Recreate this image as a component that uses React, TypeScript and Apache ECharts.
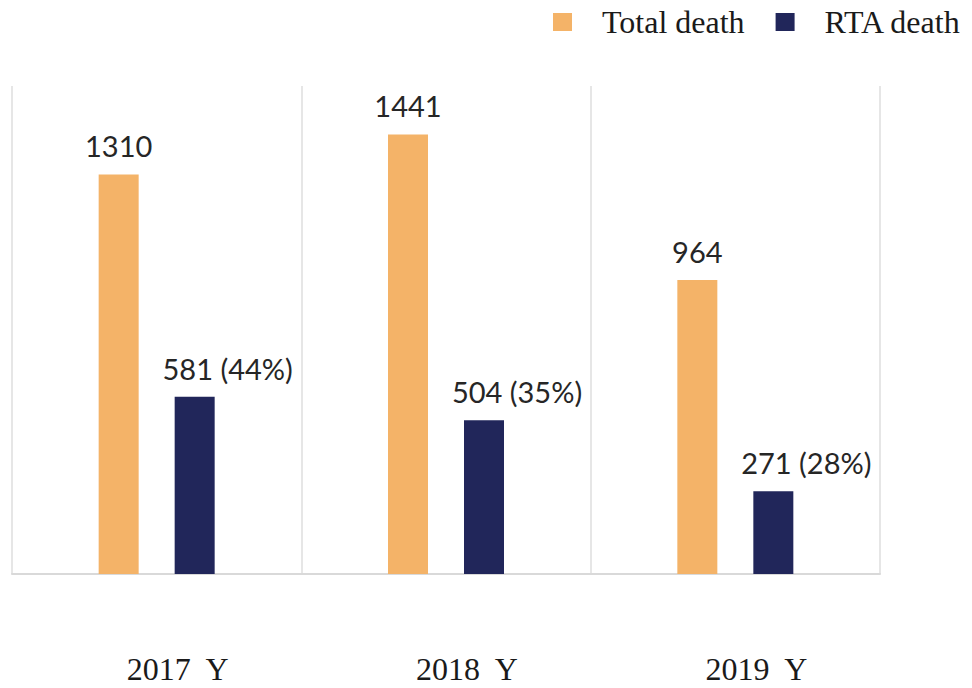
import React, { useEffect, useRef } from "react";
import * as echarts from "echarts";

const categories = ["2017 Y", "2018 Y", "2019 Y"];
const totalDeath = [1310, 1441, 964];
const rtaDeath = [581, 504, 271];
const seriesNames = ["Total death", "RTA death"];

export default function App() {
  const ref = useRef<HTMLDivElement>(null);
  useEffect(() => {
    if (!ref.current) return;
    const chart = echarts.init(ref.current, null, { renderer: "svg" });
    const pct = rtaDeath.map((v, i) => Math.round((v / totalDeath[i]) * 100));
    chart.setOption({
      animation: false,
      backgroundColor: "#ffffff",
      legend: {
        left: 548,
        top: 1,
        itemWidth: 19,
        itemHeight: 18,
        itemGap: 31,
        icon: "rect",
        data: seriesNames,
        textStyle: {
          fontFamily: "Liberation Serif",
          fontSize: 32,
          color: "#1a1a1a",
          padding: [0, 0, 10, 25],
        },
      },
      grid: { left: 12, right: 92, top: 86, bottom: 114 },
      xAxis: {
        type: "category",
        data: categories,
        axisTick: { show: false },
        axisLine: { lineStyle: { color: "#d9d9d9", width: 2 } },
        splitLine: { show: true, lineStyle: { color: "#e6e6e6", width: 2 } },
        axisLabel: {
          margin: 79,
          fontFamily: "Liberation Serif",
          fontSize: 32,
          color: "#1a1a1a",
          padding: [0, 0, 0, 42],
          formatter: (v: string) => v.replace(" ", "  "),
        },
      },
      yAxis: {
        type: "value",
        min: 0,
        max: 1600,
        show: false,
        splitLine: { show: false },
      },
      series: [
        {
          name: seriesNames[0],
          type: "bar",
          data: totalDeath,
          barWidth: 40,
          barGap: "90%",
          itemStyle: { color: "#F4B368" },
          label: {
            show: true,
            position: "top",
            distance: 14,
            fontFamily: "Lato",
            fontSize: 29,
            color: "#262626",
          },
        },
        {
          name: seriesNames[1],
          type: "bar",
          data: rtaDeath,
          barWidth: 40,
          itemStyle: { color: "#21265A" },
          label: {
            show: true,
            position: "top",
            distance: 14,
            offset: [33, 0],
            fontFamily: "Lato",
            fontSize: 29,
            color: "#262626",
            formatter: (p: any) => `${p.value} (${pct[p.dataIndex]}%)`,
          },
        },
      ],
    });
    return () => chart.dispose();
  }, []);
  return (
    <div
      ref={ref}
      style={{ position: "absolute", left: 0, top: 0, width: 972, height: 688 }}
    />
  );
}
